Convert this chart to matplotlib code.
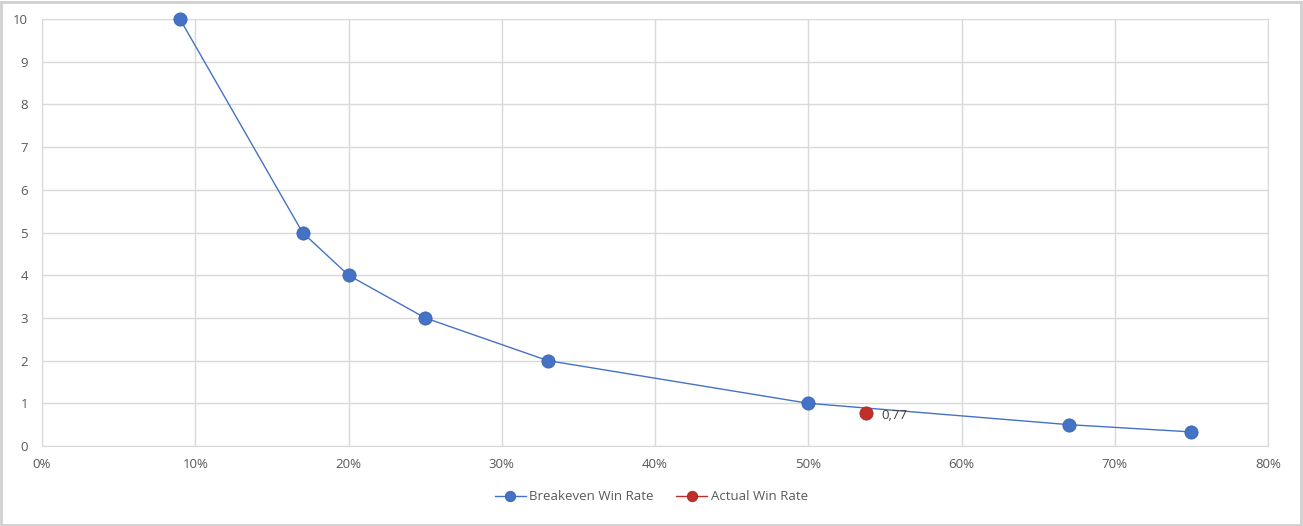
import matplotlib.pyplot as plt
from matplotlib.ticker import PercentFormatter
from matplotlib.patches import Rectangle

# datos
win_rate = [0.09, 0.17, 0.20, 0.25, 0.33, 0.50, 0.67, 0.75]
rr = [10, 5, 4, 3, 2, 1, 0.5, 0.33]

actual_x = [0.538]
actual_y = [0.77]
actual_label = "0,77"

plt.rcParams["font.family"] = ["Open Sans", "DejaVu Sans"]

fig = plt.figure(figsize=(13.03, 5.26), dpi=100)
ax = fig.add_axes([42 / 1303, 1 - 446 / 526, (1268 - 42) / 1303, (446 - 19) / 526])

blue = "#4472C4"
red = "#C0302B"
grid = "#D9D9D9"

ax.plot(win_rate, rr, color=blue, linewidth=1, marker="o", markersize=9.5,
        markerfacecolor=blue, markeredgecolor="#3A64B0", markeredgewidth=0.6,
        label="Breakeven Win Rate", zorder=3, clip_on=False)
ax.plot(actual_x, actual_y, color=red, linewidth=1, marker="o", markersize=9.5,
        markerfacecolor=red, markeredgecolor="#A82825", markeredgewidth=0.6,
        label="Actual Win Rate", zorder=4, clip_on=False)
ax.annotate(actual_label, (actual_x[0], actual_y[0]), xytext=(11, -4),
            textcoords="offset points", fontsize=9.5, color="#404040")

ax.set_xlim(0, 0.8)
ax.set_ylim(0, 10)
ax.set_xticks([i / 10 for i in range(9)])
ax.set_yticks(range(11))
ax.xaxis.set_major_formatter(PercentFormatter(1.0, decimals=0))
ax.grid(True, color=grid, linewidth=1)
ax.set_axisbelow(True)
for s in ax.spines.values():
    s.set_color(grid)
ax.tick_params(length=0, labelsize=9.5, labelcolor="#595959")
ax.tick_params(axis="x", pad=9)
ax.tick_params(axis="y", pad=10)

leg = fig.legend(loc="center", bbox_to_anchor=(0.5, 1 - 497 / 526), ncol=2,
                 frameon=False, fontsize=9.5, handlelength=2.3,
                 handletextpad=0.3, columnspacing=1.7)
for t in leg.get_texts():
    t.set_color("#595959")
for h in leg.legend_handles:
    h.set_markersize(7.5)

# marco exterior
fig.patches.append(Rectangle((1 / 1303, 1 / 526), 1 - 3 / 1303, 1 - 3 / 526,
                             transform=fig.transFigure, fill=False,
                             edgecolor="#D0D0D0", linewidth=2))

fig.savefig("out.png", dpi=100)
